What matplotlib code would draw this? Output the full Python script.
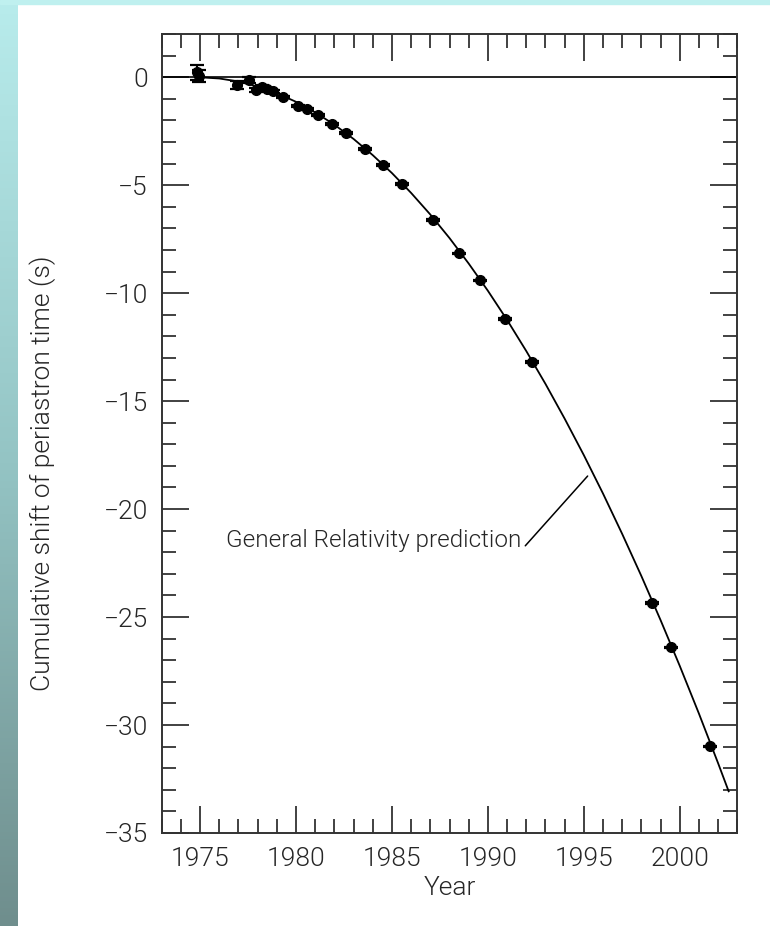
import numpy as np
import matplotlib
matplotlib.use("Agg")
import matplotlib.pyplot as plt
from matplotlib.patches import Rectangle

years = [1974.82, 1974.93, 1976.94, 1977.56, 1977.91, 1978.24, 1978.47, 1978.78,
         1979.30, 1980.11, 1980.55, 1981.16, 1981.89, 1982.58, 1983.57, 1984.51,
         1985.52, 1987.15, 1988.50, 1989.58, 1990.90, 1992.29, 1998.57, 1999.54,
         2001.59]
shift = [0.22, 0.06, -0.36, -0.12, -0.60, -0.45, -0.56, -0.66,
         -0.91, -1.33, -1.48, -1.76, -2.18, -2.59, -3.32, -4.07,
         -4.94, -6.61, -8.15, -9.41, -11.20, -13.19, -24.35, -26.40,
         -30.99]
shift_err = [0.33, 0.28, 0.17, 0.15, 0.10, 0.10, 0.08, 0.08,
             0.06, 0.05, 0.05, 0.04, 0.04, 0.04, 0.03, 0.03,
             0.03, 0.03, 0.03, 0.03, 0.03, 0.03, 0.03, 0.03,
             0.03]

# GR prediction curve at yearly steps
gr_years = [1974.9, 1976, 1977, 1978, 1979, 1980, 1981, 1982, 1983, 1984, 1985,
            1986, 1987, 1988, 1989, 1990, 1991, 1992, 1993, 1994, 1995, 1996,
            1997, 1998, 1999, 2000, 2001, 2002, 2002.55]
gr_shift = [0.00, -0.06, -0.20, -0.43, -0.74, -1.14, -1.63, -2.20, -2.86, -3.61,
            -4.44, -5.36, -6.36, -7.45, -8.63, -9.89, -11.24, -12.68, -14.20,
            -15.81, -17.50, -19.28, -21.15, -23.10, -25.14, -27.26, -29.47,
            -31.77, -33.07]

xticks = [1975, 1980, 1985, 1990, 1995, 2000]
yticks = [0, -5, -10, -15, -20, -25, -30, -35]

plt.rcParams['font.family'] = ['Roboto', 'DejaVu Sans']
plt.rcParams['font.weight'] = 300
plt.rcParams['axes.labelweight'] = 300
ink = '#262626'

fig = plt.figure(figsize=(7.7, 9.26), dpi=100)
fig.patch.set_facecolor('white')

# slide decoration: gradient band on the left, thin band on top
band = fig.add_axes([0, 0, 18 / 770, 1])
grad = np.linspace(0, 1, 256).reshape(-1, 1)
cmap = matplotlib.colors.LinearSegmentedColormap.from_list('band', ['#b8ecec', '#94c4c4', '#6f8e8d'])
band.imshow(grad, aspect='auto', cmap=cmap, extent=[0, 1, 0, 1], origin='upper')
band.axis('off')
fig.patches.append(Rectangle((0, 1 - 3.5 / 926), 1, 3.5 / 926, transform=fig.transFigure,
                             color='#bff0ef', zorder=5))

ax = fig.add_axes([161.7 / 770, 1 - 833 / 926, (737.3 - 161.7) / 770, (833 - 34) / 926])

ax.axhline(0, color='black', lw=1.2, zorder=2)
ax.plot(gr_years, gr_shift, color='black', lw=1.3, zorder=2)
ax.errorbar(years, shift, yerr=shift_err, fmt='o', color='black', ms=7,
            elinewidth=1.5, capsize=4.8, capthick=1.6, zorder=3)

ax.text(1991.75, -21.76, 'General Relativity prediction', ha='right', va='baseline',
        fontsize=17.5, color=ink)
ax.annotate('', xy=(1995.2, -18.47), xytext=(1991.95, -21.7),
            arrowprops=dict(arrowstyle='-', color='black', lw=1.1, shrinkA=0, shrinkB=0))

ax.set_xlim(1973, 2003)
ax.set_ylim(-35, 2)
ax.set_xticks(xticks)
ax.set_yticks(yticks)
ax.set_xticks(np.arange(1973, 2004), minor=True)
ax.set_yticks(np.arange(-35, 3), minor=True)
ax.tick_params(which='both', direction='in', top=True, right=True, color='#333333', width=1.3)
ax.tick_params(which='major', length=19.5, pad=10, labelsize=19, labelcolor=ink)
ax.tick_params(which='minor', length=10)
for s in ax.spines.values():
    s.set_color('#333333')
    s.set_linewidth(1.4)

ax.set_xlabel('Year', fontsize=19, color=ink, labelpad=4)
ax.set_ylabel('Cumulative shift of periastron time (s)', fontsize=19, color=ink)
ax.yaxis.set_label_coords(-0.183, 0.45)

fig.savefig('out.png', dpi=100)
